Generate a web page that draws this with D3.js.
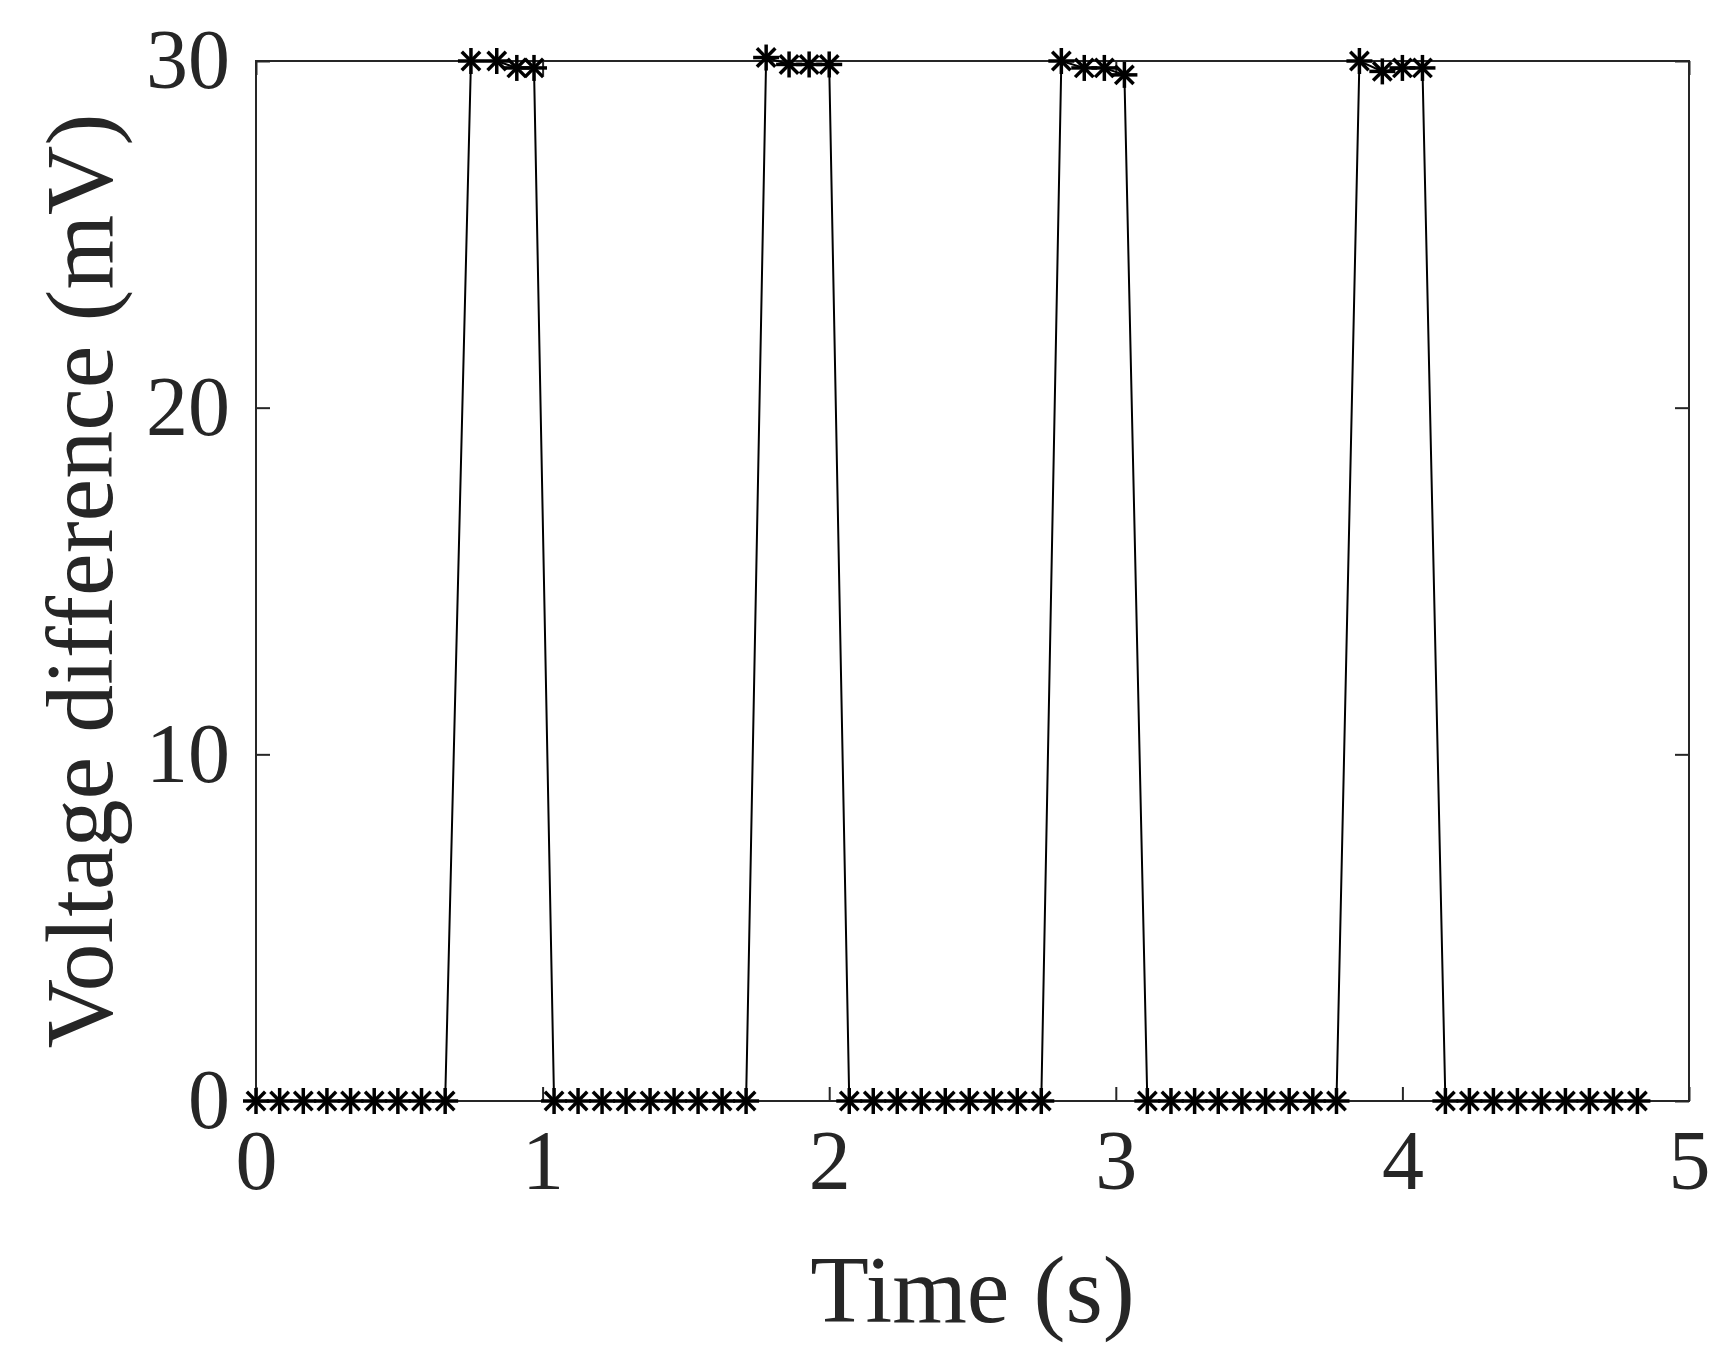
<!DOCTYPE html>
<html><head><meta charset="utf-8">
<script src="https://cdn.jsdelivr.net/npm/d3@7"></script>
<style>body{margin:0;background:#fff}</style>
</head><body>
<svg id="chart" width="1723" height="1356"></svg>
<script>
// zero runs: start time, end time (9 samples each)
var lowRuns = [[0, 0.66], [1.04, 1.71], [2.07, 2.74], [3.11, 3.77], [4.15, 4.82]];
// high plateaus: times and values
var highTimes = [[0.75, 0.84, 0.91, 0.97], [1.78, 1.86, 1.93, 2.00], [2.81, 2.89, 2.96, 3.03], [3.85, 3.93, 4.00, 4.07]];
var highVals = [[30, 30, 29.8, 29.8], [30.1, 29.9, 29.9, 29.9], [30, 29.8, 29.8, 29.6], [30, 29.7, 29.8, 29.8]];
var xTicks = [0, 1, 2, 3, 4, 5];
var yTicks = [0, 10, 20, 30];

var data = [];
lowRuns.forEach(function(r, i){
  for (var k = 0; k < 9; k++) data.push({t: r[0] + (r[1]-r[0])*k/8, v: 0});
  if (i < highTimes.length)
    highTimes[i].forEach(function(t, j){ data.push({t: t, v: highVals[i][j]}); });
});

var margin = {top: 61, left: 256, right: 34, bottom: 255};
var width = 1723 - margin.left - margin.right;
var height = 1356 - margin.top - margin.bottom;
var svg = d3.select("#chart");
var g = svg.append("g").attr("transform", "translate(" + margin.left + "," + margin.top + ")");

var x = d3.scaleLinear().domain([0, 5]).range([0, width]);
var y = d3.scaleLinear().domain([0, 30]).range([height, 0]);

var font = "Liberation Serif, Times New Roman, serif";
var col = "#262626";
var fmt = d3.format("d");

// ticks inside box on all sides
g.append("g").attr("transform", "translate(0," + height + ")")
  .call(d3.axisBottom(x).tickValues(xTicks).tickFormat(fmt).tickSize(-14).tickPadding(28).tickSizeOuter(0));
g.append("g").call(d3.axisTop(x).tickValues(xTicks).tickSize(-14).tickFormat("").tickSizeOuter(0));
g.append("g").call(d3.axisLeft(y).tickValues(yTicks).tickFormat(fmt).tickSize(-14).tickPadding(26).tickSizeOuter(0));
g.append("g").attr("transform", "translate(" + width + ",0)")
  .call(d3.axisRight(y).tickValues(yTicks).tickSize(-14).tickFormat("").tickSizeOuter(0));
g.selectAll(".domain").remove();
g.selectAll(".tick line").attr("stroke", col).attr("stroke-width", 2);
g.selectAll(".tick text").attr("font-family", font).attr("font-size", 84).attr("fill", col);

g.append("rect").attr("width", width).attr("height", height)
  .attr("fill", "none").attr("stroke", col).attr("stroke-width", 2);

var line = d3.line().x(function(d){ return x(d.t); }).y(function(d){ return y(d.v); });
g.append("path").attr("d", line(data)).attr("fill", "none").attr("stroke", "#000").attr("stroke-width", 2);

// asterisk markers
var star = g.selectAll(".star").data(data).enter().append("g")
  .attr("transform", function(d){ return "translate(" + x(d.t) + "," + y(d.v) + ")"; });
[0, 45, 90, 135].forEach(function(a){
  star.append("line").attr("x1", 0).attr("y1", -13).attr("x2", 0).attr("y2", 13)
    .attr("transform", "rotate(" + a + ")").attr("stroke", "#000").attr("stroke-width", 3.5);
});

svg.append("text").attr("x", margin.left + width/2).attr("y", 1322)
  .attr("text-anchor", "middle").attr("font-family", font).attr("font-size", 96)
  .attr("fill", col).text("Time (s)");
svg.append("text").attr("transform", "translate(112," + (margin.top + height/2) + ") rotate(-90)")
  .attr("text-anchor", "middle").attr("font-family", font).attr("font-size", 96)
  .attr("fill", col).text("Voltage difference (mV)");
</script>
</body></html>
